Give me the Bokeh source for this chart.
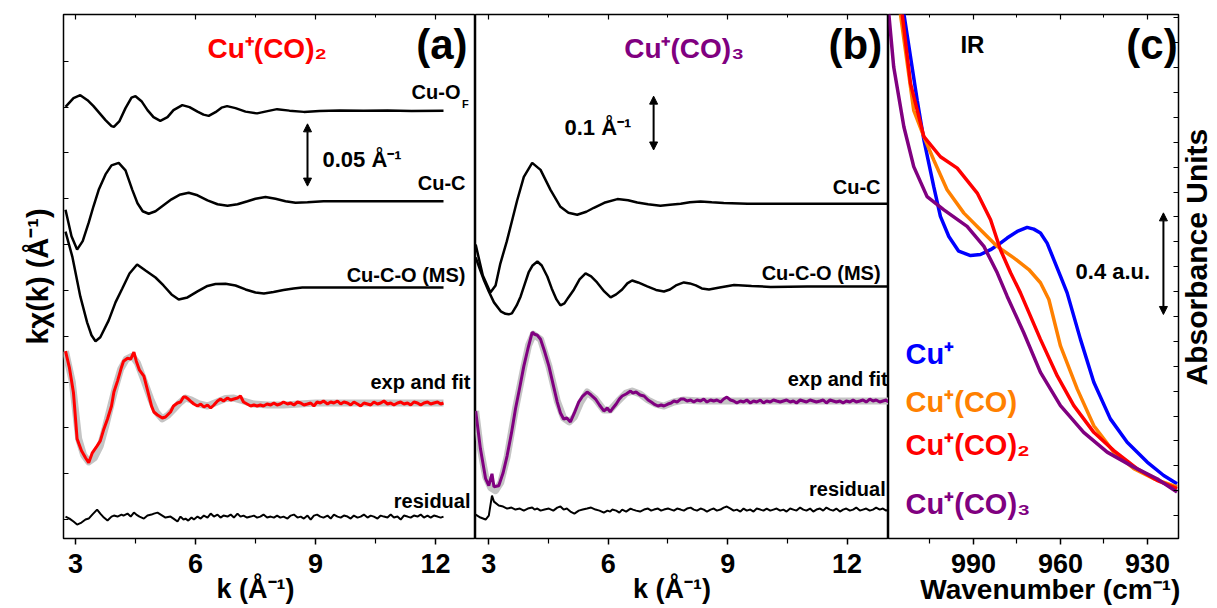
import json
import numpy as np
from bokeh.plotting import figure
from bokeh.layouts import row
from bokeh.models import (Range1d, LinearAxis, FixedTicker, Label, Arrow, NormalHead,
                          CustomJSTickFormatter)
from bokeh.embed import file_html
from bokeh.resources import INLINE

FONT = "Liberation Sans"

# ---------------- Panel (a): Cu+(CO)2, k*chi(k) in 1/Angstrom ----------------
K_A_CUOF = [2.75, 2.95, 3.12, 3.3, 3.45, 3.6, 3.75, 3.9, 3.96, 4.1, 4.25, 4.4, 4.5, 4.65, 4.8, 4.95, 5.12, 5.3, 5.45, 5.67,
            5.85, 6.05, 6.2, 6.33, 6.5, 6.65, 6.79, 7.0, 7.25, 7.54, 7.8, 8.04, 8.35, 8.71, 9.1, 9.6, 10.2, 10.8, 11.4, 12.2]
CUOF_A = [0.0030, 0.0100, 0.0124, 0.0084, 0.0036, -0.0020, -0.0076, -0.0124, -0.0130, -0.0084, 0.0020, 0.0104, 0.0116,
          0.0076, 0.0004, -0.0052, -0.0082, -0.0052, 0.0004, 0.0044, 0.0028, -0.0008, -0.0032, -0.0042, -0.0012, 0.0024,
          0.0036, 0.0020, -0.0008, -0.0022, -0.0004, 0.0012, 0.0, -0.0010, -0.0002, 0.0002, 0.0, 0.0002, -0.0002, 0.0]

K_A_CUC = [2.75, 2.9, 3.04, 3.18, 3.33, 3.45, 3.58, 3.75, 3.9, 4.08, 4.25, 4.42, 4.55, 4.68, 4.83, 5.0, 5.2, 5.4, 5.6, 5.83,
           6.05, 6.3, 6.55, 6.8, 7.05, 7.3, 7.5, 7.75, 8.0, 8.25, 8.5, 8.8, 9.2, 10.0, 11.0, 12.2]
CUC_A = [-0.0068, -0.0280, -0.0388, -0.0320, -0.0172, -0.0040, 0.0092, 0.0216, 0.0288, 0.0308, 0.0248, 0.0092, -0.0016,
         -0.0080, -0.0100, -0.0080, -0.0032, 0.0016, 0.0052, 0.0068, 0.0048, 0.0008, -0.0024, -0.0036, -0.0024, 0.0,
         0.0020, 0.0034, 0.0020, 0.0, -0.0012, -0.0008, 0.0, 0.0, 0.0, 0.0]

K_A_CUCO = [2.75, 2.92, 3.12, 3.29, 3.4, 3.5, 3.62, 3.83, 4.0, 4.17, 4.35, 4.54, 4.75, 5.0, 5.2, 5.4, 5.58, 5.8, 6.05, 6.3,
            6.5, 6.75, 7.0, 7.25, 7.5, 7.71, 7.95, 8.2, 8.45, 8.67, 9.2, 10.0, 11.0, 12.2]
CUCO_A = [0.0448, 0.0248, -0.0072, -0.0280, -0.0384, -0.0432, -0.0400, -0.0264, -0.0120, -0.0008, 0.0112, 0.0184, 0.0136,
          0.0080, 0.0016, -0.0056, -0.0096, -0.0080, -0.0032, 0.0012, 0.0028, 0.0030, 0.0016, -0.0016, -0.0040, -0.0048,
          -0.0036, -0.0020, -0.0008, 0.0, 0.0, 0.0, 0.0, 0.0]

K_A_FIT = [2.75, 2.92, 3.08, 3.2, 3.33, 3.47, 3.62, 3.75, 3.88, 4.0, 4.13, 4.27, 4.42, 4.55, 4.7, 4.88, 5.02, 5.17, 5.32,
           5.46, 5.6, 5.75, 5.9, 6.1, 6.3, 6.54, 6.75, 6.96, 7.2, 7.46, 7.8, 8.2, 8.6, 9.0, 9.5, 10.0, 10.5, 11.0, 11.5, 12.2]
FIT_A = [0.0416, 0.0168, -0.0288, -0.0416, -0.0472, -0.0440, -0.0344, -0.0192, -0.0024, 0.0128, 0.0272, 0.0352, 0.0376,
         0.0320, 0.0192, 0.0032, -0.0072, -0.0128, -0.0096, -0.0048, 0.0, 0.0040, 0.0024, -0.0008, -0.0024, 0.0008,
         0.0036, 0.0040, 0.0016, -0.0008, -0.0016, -0.0016, -0.0008, 0.0, 0.0, 0.0, 0.0, 0.0, 0.0, 0.0]

K_A_EXP = [2.75, 2.85, 2.95, 3.04, 3.15, 3.25, 3.33, 3.42, 3.54, 3.62, 3.71, 3.8, 3.9, 3.96, 4.05, 4.15, 4.2, 4.3, 4.38,
           4.46, 4.52, 4.6, 4.71, 4.8, 4.9, 4.96, 5.05, 5.17, 5.25, 5.375, 5.45, 5.55, 5.625, 5.7, 5.75, 5.82, 5.9, 5.96,
           6.05, 6.13, 6.21, 6.3, 6.38, 6.46, 6.55, 6.625, 6.7, 6.8, 6.88, 6.96, 7.05, 7.125, 7.2, 7.29, 7.38, 7.46, 7.54,
           7.62, 7.7, 7.79, 7.88, 7.96, 8.04, 8.12, 8.2, 8.3, 8.38, 8.46, 8.55, 8.63, 8.71, 8.8, 8.88, 8.96, 9.04, 9.12,
           9.2, 9.3, 9.38, 9.46, 9.55, 9.63, 9.71, 9.8, 9.88, 9.96, 10.05, 10.13, 10.21, 10.3, 10.38, 10.46, 10.55, 10.63,
           10.71, 10.8, 10.88, 10.96, 11.05, 11.13, 11.21, 11.3, 11.38, 11.46, 11.55, 11.63, 11.71, 11.8, 11.88, 11.96,
           12.05, 12.13, 12.2]
EXP_A = [0.0416, 0.0280, 0.0080, -0.0288, -0.0384, -0.0440, -0.0480, -0.0400, -0.0344, -0.0304,
         -0.0208, -0.0128, -0.0024, 0.0088, 0.0176, 0.0288, 0.0336, 0.0360, 0.0352, 0.0408,
         0.0336, 0.0264, 0.0216, 0.0104, -0.0024, -0.0072, -0.0096, -0.0120, -0.0112, -0.0072,
         -0.0024, 0.0, 0.0008, 0.0048, 0.0048, 0.0032, 0.0008, -0.0008, -0.0024, -0.0008,
         -0.0032, -0.0016, -0.0040, -0.0016, 0.0016, 0.0032, 0.0016, 0.0040, 0.0024, 0.0032,
         0.0040, 0.0056, 0.0008, -0.0008, -0.0024, -0.0016, -0.0024, -0.0016, -0.0024, -0.0008,
         -0.0016, 0.0, -0.0016, -0.0008, 0.0008, -0.0008, 0.0, -0.0016, 0.0008, 0.0,
         -0.0016, -0.0008, 0.0, -0.0024, 0.0008, 0.0, 0.0016, -0.0008, 0.0008, 0.0,
         0.0016, -0.0008, 0.0008, 0.0, -0.0016, 0.0008, -0.0008, -0.0024, 0.0, -0.0008,
         -0.0016, 0.0008, -0.0008, 0.0, 0.0016, -0.0008, 0.0, -0.0016, 0.0, 0.0008,
         -0.0008, 0.0, -0.0016, 0.0008, 0.0, -0.0016, 0.0, 0.0008, -0.0008, 0.0,
         0.0008, -0.0008, 0.0]
RES_A = [0.0, -0.0016, -0.0040, -0.0064, -0.0048, -0.0024, -0.0016, 0.0016, 0.0056, 0.0024,
         -0.0008, -0.0032, 0.0, 0.0008, 0.0, 0.0016, 0.0008, 0.0024, 0.0, 0.0032,
         0.0016, 0.0, -0.0016, 0.0008, 0.0016, 0.0024, 0.0032, 0.0008, -0.0008, 0.0,
         -0.0016, -0.0040, 0.0, -0.0024, -0.0016, -0.0032, -0.0008, -0.0024, 0.0, -0.0016,
         0.0008, -0.0008, 0.0024, 0.0, 0.0016, -0.0008, 0.0008, 0.0, 0.0016, -0.0008,
         0.0024, 0.0, 0.0008, -0.0008, 0.0, 0.0008, -0.0008, 0.0, 0.0016, -0.0008,
         0.0, -0.0008, 0.0008, -0.0008, 0.0, -0.0016, 0.0008, 0.0016, -0.0008, 0.0,
         -0.0016, 0.0008, -0.0024, 0.0008, 0.0016, 0.0, -0.0008, 0.0008, -0.0016, 0.0016,
         0.0, -0.0008, 0.0008, 0.0, -0.0016, 0.0008, -0.0008, 0.0, 0.0016, -0.0008,
         0.0008, 0.0, -0.0016, 0.0008, 0.0, -0.0008, 0.0016, -0.0008, 0.0, -0.0024,
         0.0008, 0.0, -0.0008, 0.0008, 0.0, 0.0016, -0.0008, 0.0008, -0.0008, 0.0008,
         0.0, -0.0008, 0.0]
OFFSET_A = {"cuof": 0.3436, "cuc": 0.2708, "cuco": 0.2016, "exp": 0.1088, "res": 0.0176}

# ---------------- Panel (b): Cu+(CO)3 ----------------
K_B_CUC = [2.67, 2.85, 3.04, 3.17, 3.29, 3.45, 3.59, 3.71, 3.88, 4.09, 4.3, 4.55, 4.8, 5.0, 5.22, 5.45, 5.64, 5.9, 6.23,
           6.5, 6.73, 7.0, 7.31, 7.55, 7.82, 8.05, 8.32, 8.6, 8.9, 9.5, 10.5, 11.5, 13.04]
CUC_B = [-0.0759, -0.1332, -0.1647, -0.1517, -0.1110, -0.0703, -0.0296, 0.0056, 0.0500, 0.0759, 0.0629, 0.0259, -0.0056,
         -0.0167, -0.0204, -0.0148, -0.0074, 0.0019, 0.0087, 0.0065, 0.0024, -0.0009, -0.0037, -0.0019, 0.0, 0.0028,
         0.0043, 0.0028, 0.0013, 0.0, 0.0, 0.0, 0.0]

K_B_CUCO = [2.67, 2.77, 2.87, 3.0, 3.13, 3.3, 3.42, 3.5, 3.58, 3.7, 3.8, 3.9, 4.0, 4.1, 4.22, 4.33, 4.47, 4.58, 4.7, 4.8,
            4.9, 5.0, 5.14, 5.28, 5.43, 5.57, 5.72, 5.9, 6.06, 6.2, 6.35, 6.48, 6.6, 6.75, 6.98, 7.2, 7.4, 7.55, 7.7, 7.9,
            8.05, 8.2, 8.35, 8.53, 8.8, 9.16, 9.6, 10.08, 11.0, 12.0, 13.04]
CUCO_B = [0.0537, 0.0333, 0.0130, -0.0093, -0.0296, -0.0463, -0.0509, -0.0518, -0.0500, -0.0352, -0.0185, 0.0037,
          0.0259, 0.0389, 0.0463, 0.0389, 0.0185, -0.0037, -0.0241, -0.0352, -0.0315, -0.0204, -0.0056, 0.0130, 0.0241,
          0.0185, 0.0074, -0.0093, -0.0204, -0.0148, -0.0056, 0.0056, 0.0111, 0.0074, 0.0, -0.0065, -0.0093, -0.0056,
          0.0019, 0.0074, 0.0056, 0.0019, -0.0037, -0.0056, -0.0019, 0.0028, 0.0009, -0.0009, 0.0, 0.0, 0.0]

K_B_FIT = [2.67, 2.79, 2.92, 3.05, 3.17, 3.3, 3.46, 3.67, 3.88, 4.0, 4.12, 4.3, 4.51, 4.72, 4.88, 5.02, 5.15, 5.3, 5.47,
           5.68, 5.89, 6.05, 6.25, 6.45, 6.6, 6.8, 7.0, 7.2, 7.4, 7.65, 7.9, 8.3, 8.8, 9.5, 10.5, 11.5, 13.04]
FIT_B = [-0.0185, -0.0888, -0.1406, -0.1610, -0.1665, -0.1517, -0.1036, -0.0148, 0.0629, 0.1036, 0.1240, 0.1147, 0.0648,
         0.0, -0.0315, -0.0389, -0.0296, -0.0037, 0.0167, 0.0037, -0.0167, -0.0167, 0.0, 0.0148, 0.0185, 0.0130, 0.0019,
         -0.0056, -0.0093, -0.0019, 0.0019, 0.0, 0.0, 0.0, 0.0, 0.0, 0.0]

K_B_EXP = [2.67, 2.79, 2.92, 3.0, 3.08, 3.13, 3.25, 3.36, 3.46, 3.57, 3.67, 3.78, 3.88, 3.98, 4.09, 4.15, 4.22, 4.3, 4.4,
           4.51, 4.62, 4.72, 4.8, 4.88, 4.96, 5.05, 5.15, 5.26, 5.36, 5.47, 5.57, 5.68, 5.78, 5.89, 5.98, 6.05, 6.1, 6.2,
           6.28, 6.35, 6.45, 6.56, 6.62, 6.7, 6.8, 6.9, 7.0, 7.08, 7.15, 7.25, 7.33, 7.4, 7.5, 7.58, 7.65, 7.73, 7.82, 7.9,
           7.98, 8.07, 8.15, 8.23, 8.32, 8.4, 8.48, 8.57, 8.65, 8.73, 8.82, 8.9, 8.98, 9.07, 9.15, 9.23, 9.32, 9.4, 9.48,
           9.57, 9.65, 9.73, 9.82, 9.9, 9.98, 10.07, 10.15, 10.23, 10.32, 10.4, 10.48, 10.57, 10.65, 10.73, 10.82, 10.9,
           10.98, 11.07, 11.15, 11.23, 11.32, 11.4, 11.48, 11.57, 11.65, 11.73, 11.82, 11.9, 11.98, 12.07, 12.15, 12.23,
           12.32, 12.4, 12.48, 12.57, 12.65, 12.73, 12.82, 12.9, 12.98, 13.04]
EXP_B = [-0.0185, -0.0888, -0.1443, -0.1573, -0.1351, -0.1591, -0.1573, -0.1332, -0.1018, -0.0592,
         -0.0148, 0.0259, 0.0648, 0.0962, 0.1277, 0.1240, 0.1221, 0.1147, 0.0925, 0.0648,
         0.0296, -0.0019, -0.0222, -0.0333, -0.0315, -0.0389, -0.0222, -0.0019, 0.0093, 0.0167,
         0.0111, 0.0037, -0.0074, -0.0185, -0.0130, -0.0204, -0.0148, -0.0056, 0.0037, 0.0093,
         0.0130, 0.0185, 0.0148, 0.0167, 0.0111, 0.0093, 0.0019, -0.0019, -0.0056, -0.0093,
         -0.0074, -0.0093, -0.0056, -0.0037, 0.0, -0.0019, 0.0037, 0.0037, 0.0, 0.0019,
         -0.0019, 0.0019, 0.0, 0.0037, -0.0019, 0.0019, 0.0, 0.0019, -0.0019, 0.0037,
         0.0074, 0.0019, 0.0, -0.0037, 0.0, -0.0019, 0.0019, -0.0037, 0.0, -0.0019,
         0.0019, -0.0037, 0.0, -0.0019, 0.0019, 0.0, -0.0019, 0.0, 0.0019, -0.0019,
         0.0, -0.0037, 0.0019, 0.0, -0.0019, 0.0019, 0.0, -0.0019, 0.0, 0.0019,
         -0.0037, 0.0019, 0.0, -0.0019, 0.0, -0.0037, 0.0, -0.0019, 0.0019, -0.0019,
         0.0, 0.0019, -0.0019, 0.0037, 0.0, 0.0019, -0.0019, 0.0, 0.0019, -0.0019]
RES_B = [-0.0093, -0.0148, -0.0185, -0.0111, 0.0259, 0.0148, 0.0074, 0.0056, 0.0019, 0.0037,
         0.0, 0.0019, -0.0019, 0.0019, 0.0037, 0.0, 0.0019, -0.0019, 0.0, 0.0019,
         -0.0019, 0.0037, 0.0056, 0.0, 0.0019, -0.0037, -0.0074, -0.0019, 0.0, 0.0019,
         0.0037, 0.0, -0.0019, -0.0056, -0.0019, -0.0037, 0.0, -0.0019, -0.0056, 0.0,
         -0.0037, 0.0019, 0.0, -0.0019, -0.0037, 0.0, 0.0019, -0.0019, 0.0, 0.0019,
         -0.0019, 0.0, 0.0019, 0.0, -0.0019, 0.0019, 0.0, -0.0019, 0.0019, 0.0037,
         0.0, -0.0019, 0.0019, 0.0, -0.0037, 0.0, 0.0019, -0.0019, 0.0, 0.0037,
         0.0056, 0.0019, -0.0019, 0.0, -0.0037, 0.0019, -0.0019, 0.0, -0.0037, 0.0019,
         0.0, -0.0019, 0.0019, -0.0019, 0.0, 0.0019, -0.0019, 0.0, -0.0037, 0.0019,
         0.0, -0.0019, 0.0037, 0.0, -0.0019, 0.0019, -0.0037, 0.0, 0.0019, -0.0019,
         0.0037, 0.0, -0.0019, 0.0019, -0.0037, 0.0, 0.0019, -0.0019, 0.0, 0.0037,
         -0.0019, 0.0, 0.0019, -0.0019, 0.0, 0.0037, 0.0, 0.0019, -0.0019, 0.0]
OFFSET_B = {"cuc": 0.6216, "cuco": 0.4681, "exp": 0.2553, "res": 0.0537}

# ---------------- Panel (c): IR absorbance ----------------
W_CU = [1016.0, 1014.0, 1009.4, 1007.1, 1003.7, 1001.4, 998.5, 995.1, 991.0, 987.6, 984.1, 980.7, 978.4, 974.9, 971.5,
        969.2, 966.9, 964.6, 962.3, 960.0, 957.7, 953.1, 948.5, 942.8, 937.0, 930.1, 924.4, 919.8]
A_CU = [2.25, 2.066, 1.725, 1.569, 1.385, 1.268, 1.189, 1.131, 1.114, 1.118, 1.137, 1.163, 1.183, 1.209, 1.225, 1.218,
        1.203, 1.163, 1.098, 1.033, 0.967, 0.784, 0.615, 0.471, 0.379, 0.301, 0.248, 0.216]
W_CO1 = [1016.5, 1015.2, 1010.6, 1007.1, 1003.7, 999.1, 993.3, 987.6, 981.8, 976.1, 970.9, 966.9, 964.0, 960.0, 954.2,
         948.5, 941.6, 934.7, 927.8, 919.8]
A_CO1 = [2.25, 2.066, 1.686, 1.582, 1.490, 1.373, 1.281, 1.216, 1.150, 1.105, 1.059, 1.007, 0.941, 0.758, 0.588, 0.444,
         0.340, 0.275, 0.235, 0.203]
W_CO2 = [1015.8, 1014.6, 1011.7, 1007.1, 1001.4, 995.6, 988.7, 984.1, 980.7, 977.2, 973.8, 966.9, 961.1, 955.4, 948.5,
         941.6, 933.6, 926.7, 919.8]
A_CO2 = [2.25, 2.066, 1.791, 1.582, 1.503, 1.458, 1.360, 1.255, 1.137, 1.046, 0.967, 0.784, 0.640, 0.523, 0.418, 0.346,
         0.275, 0.229, 0.196]
W_CO3 = [1020.0, 1019.2, 1017.5, 1014.0, 1010.6, 1006.0, 1000.2, 992.2, 986.4, 981.8, 978.4, 972.7, 966.9, 960.0, 952.0,
         943.9, 934.7, 926.7, 919.8]
A_CO3 = [2.35, 2.066, 1.856, 1.621, 1.464, 1.346, 1.294, 1.229, 1.150, 1.046, 0.954, 0.811, 0.654, 0.523, 0.418, 0.340,
         0.281, 0.235, 0.183]

RED = "#ff0000"
PURPLE = "#800080"
BLUE = "#0000ff"
ORANGE = "#ff8000"
GRAY = "#c4c4c4"
HEIGHT = 607
FRAME_H = 526
BLANK = CustomJSTickFormatter(code="return ''")


def series(xs, ys, off=0.0):
    n = min(len(xs), len(ys))
    return list(xs[:n]), list(np.asarray(ys[:n], dtype=float) + off)


def lab(p, x, y, text, size, color="black", align="left", baseline="alphabetic", angle=0.0, lift=0.25):
    # small upward correction (in px, proportional to font size) for the renderer's baseline placement
    per_px = (p.y_range.end - p.y_range.start) / FRAME_H
    p.add_layout(Label(x=x, y=y + lift * size * per_px, text=text, text_font=FONT, text_font_style="bold",
                       text_font_size=f"{size}px", text_color=color, text_align=align,
                       text_baseline=baseline, angle=angle))


def base_fig(width, xr, yr, left, right, ylocation):
    p = figure(width=width, height=HEIGHT, x_range=xr, y_range=yr, output_backend="svg",
               toolbar_location=None, min_border_left=left, min_border_right=right,
               min_border_top=14, min_border_bottom=67, y_axis_location=ylocation)
    p.xgrid.visible = False
    p.ygrid.visible = False
    p.outline_line_color = "black"
    p.outline_line_width = 1.5
    p.background_fill_color = "white"
    p.border_fill_color = "white"
    return p


def style_bottom(p, ticks, minor, title, title_pos, title_size=27):
    ax = p.xaxis[0]
    ax.ticker = FixedTicker(ticks=ticks, minor_ticks=minor)
    ax.major_label_text_font = FONT
    ax.major_label_text_font_style = "bold"
    ax.major_label_text_font_size = "27px"
    ax.major_label_text_color = "black"
    ax.major_tick_in = 0
    ax.major_tick_out = 6
    ax.minor_tick_in = 0
    ax.minor_tick_out = 5
    ax.major_tick_line_width = 1.5
    ax.minor_tick_line_width = 1.2
    ax.axis_line_color = None
    ax.major_label_standoff = 9
    # axis title, drawn as the single label of a second bottom axis so that it can sit off-centre
    t = LinearAxis(ticker=FixedTicker(ticks=[title_pos]),
                   formatter=CustomJSTickFormatter(code="return " + json.dumps(title) + ";"),
                   major_tick_in=0, major_tick_out=0, minor_tick_in=0, minor_tick_out=0,
                   axis_line_color=None, major_label_standoff=-2,
                   major_label_text_font=FONT, major_label_text_font_style="bold",
                   major_label_text_font_size=f"{title_size}px", major_label_text_color="black")
    p.add_layout(t, "below")


def blank_axis(ax, ticks, minor=None, tin=5, minor_in=3):
    ax.ticker = FixedTicker(ticks=ticks, minor_ticks=minor or [])
    ax.formatter = BLANK
    ax.major_label_text_font_size = "1px"
    ax.major_label_standoff = 0
    ax.major_tick_in = tin
    ax.major_tick_out = 0
    ax.minor_tick_in = minor_in
    ax.minor_tick_out = 0
    ax.major_tick_line_width = 1.2
    ax.minor_tick_line_width = 1.0
    ax.axis_line_color = None


def add_top(p, ticks, minor):
    top = LinearAxis()
    blank_axis(top, ticks, minor)
    p.add_layout(top, "above")


def arrow(p, x, y0, y1):
    p.add_layout(Arrow(start=NormalHead(size=8, fill_color="black", line_color="black"),
                       end=NormalHead(size=8, fill_color="black", line_color="black"),
                       x_start=x, y_start=y0, x_end=x, y_end=y1, line_width=2, line_color="black"))


# ---------------- figure (a) ----------------
pa = base_fig(475, Range1d(2.7, 13.0), Range1d(0, 0.4208), 63, 0, "left")
style_bottom(pa, [3, 6, 9, 12], [4.5, 7.5, 10.5], "k (Å⁻¹)", 7.5)
add_top(pa, [3, 6, 9, 12], [4.5, 7.5, 10.5])
ya = pa.yaxis[0]
blank_axis(ya, [0.0152, 0.052, 0.0888, 0.1256, 0.1624, 0.1992, 0.236, 0.2728, 0.3096, 0.3464, 0.3832], tin=5)
ya.axis_label = "kχ(k) (Å⁻¹)"
ya.axis_label_text_font = FONT
ya.axis_label_text_font_style = "bold"
ya.axis_label_text_font_size = "29px"
ya.axis_label_text_color = "black"
ya.axis_label_standoff = 10

x, y = series(K_A_CUOF, CUOF_A, OFFSET_A["cuof"]); pa.line(x, y, line_color="black", line_width=2.5)
x, y = series(K_A_CUC, CUC_A, OFFSET_A["cuc"]); pa.line(x, y, line_color="black", line_width=2.5)
x, y = series(K_A_CUCO, CUCO_A, OFFSET_A["cuco"]); pa.line(x, y, line_color="black", line_width=2.5)
x, y = series(K_A_FIT, FIT_A, OFFSET_A["exp"]); pa.line(x, y, line_color=GRAY, line_width=7, line_join="round")
x, y = series(K_A_EXP, EXP_A, OFFSET_A["exp"]); pa.line(x, y, line_color=RED, line_width=3)
x, y = series(K_A_EXP, RES_A, OFFSET_A["res"]); pa.line(x, y, line_color="black", line_width=2)

lab(pa, 6.3, 0.388, "Cu⁺(CO)₂", 28, RED)
lab(pa, 12.8, 0.3864, "(a)", 42, align="right", lift=0.3)
lab(pa, 12.625, 0.3544, "Cu-O", 20, align="right")
lab(pa, 12.66, 0.3470, "F", 11)
lab(pa, 12.75, 0.2816, "Cu-C", 20, align="right")
lab(pa, 12.75, 0.2080, "Cu-C-O (MS)", 20, align="right")
lab(pa, 12.875, 0.1216, "exp and fit", 20, align="right")
lab(pa, 12.875, 0.0264, "residual", 20, align="right")
lab(pa, 9.175, 0.300, "0.05 Å⁻¹", 22)
arrow(pa, 8.8, 0.283, 0.333)

# ---------------- figure (b) ----------------
pb = base_fig(413, Range1d(2.666, 13.04), Range1d(0, 0.9731), 0, 0, None)
style_bottom(pb, [3, 6, 9, 12], [4.5, 7.5, 10.5], "k (Å⁻¹)", 7.6)
add_top(pb, [3, 6, 9, 12], [4.5, 7.5, 10.5])

x, y = series(K_B_CUC, CUC_B, OFFSET_B["cuc"]); pb.line(x, y, line_color="black", line_width=2.5)
x, y = series(K_B_CUCO, CUCO_B, OFFSET_B["cuco"]); pb.line(x, y, line_color="black", line_width=2.5)
x, y = series(K_B_FIT, FIT_B, OFFSET_B["exp"]); pb.line(x, y, line_color=GRAY, line_width=7, line_join="round")
x, y = series(K_B_EXP, EXP_B, OFFSET_B["exp"]); pb.line(x, y, line_color=PURPLE, line_width=3)
x, y = series(K_B_EXP, RES_B, OFFSET_B["res"]); pb.line(x, y, line_color="black", line_width=2)

lab(pb, 6.4, 0.897, "Cu⁺(CO)₃", 28, PURPLE)
lab(pb, 12.88, 0.8936, "(b)", 42, align="right", lift=0.3)
lab(pb, 12.84, 0.6438, "Cu-C", 20, align="right")
lab(pb, 12.84, 0.4829, "Cu-C-O (MS)", 20, align="right")
lab(pb, 13.02, 0.2868, "exp and fit", 20, align="right")
lab(pb, 12.97, 0.0833, "residual", 20, align="right")
lab(pb, 4.90, 0.753, "0.1 Å⁻¹", 22)
arrow(pb, 7.14, 0.7215, 0.8215)

# ---------------- figure (c) ----------------
pc = base_fig(292, Range1d(1019.3, 919.3), Range1d(0, 2.063), 0, 2, "right")
style_bottom(pc, [990, 960, 930], [1005, 975, 945], "Wavenumber (cm⁻¹)", 963.5, 28)
add_top(pc, [990, 960, 930], [1005, 975, 945])
blank_axis(pc.yaxis[0], [round(0.09 + 0.098 * i, 3) for i in range(21)], tin=5)

x, y = series(W_CU, A_CU); pc.line(x, y, line_color=BLUE, line_width=3.5)
x, y = series(W_CO1, A_CO1); pc.line(x, y, line_color=ORANGE, line_width=3.5)
x, y = series(W_CO2, A_CO2); pc.line(x, y, line_color=RED, line_width=3.5)
x, y = series(W_CO3, A_CO3); pc.line(x, y, line_color=PURPLE, line_width=3.5)

lab(pc, 994.5, 1.922, "IR", 24)
lab(pc, 919.6, 1.894, "(c)", 42, align="right", lift=0.3)
lab(pc, 1013.4, 0.698, "Cu⁺", 29, BLUE)
lab(pc, 1013.4, 0.510, "Cu⁺(CO)", 29, ORANGE)
lab(pc, 1013.4, 0.341, "Cu⁺(CO)₂", 29, RED)
lab(pc, 1013.4, 0.106, "Cu⁺(CO)₃", 29, PURPLE)
lab(pc, 954.8, 1.031, "0.4 a.u.", 22)
arrow(pc, 924.5, 0.882, 1.282)

# ---------------- right-hand title strip ----------------
pd = figure(width=36, height=HEIGHT, x_range=Range1d(0, 1), y_range=Range1d(0, 1), output_backend="svg",
            toolbar_location=None, min_border=0, x_axis_location=None, y_axis_location=None)
pd.xgrid.visible = False
pd.ygrid.visible = False
pd.outline_line_color = None
pd.add_layout(Label(x=0.45, y=1 - 281 / HEIGHT, text="Absorbance Units", text_font=FONT, text_font_style="bold",
                    text_font_size="30px", text_color="black", text_align="center", text_baseline="middle",
                    angle=np.pi / 2))

layout = row(pa, pb, pc, pd, spacing=0)
with open("out.html", "w", encoding="utf-8") as f:
    f.write(file_html(layout, INLINE))
